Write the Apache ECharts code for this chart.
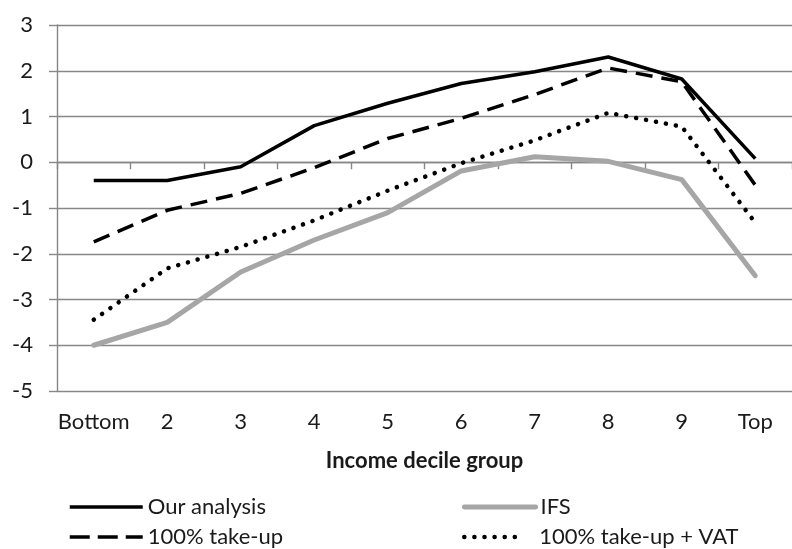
<!DOCTYPE html>
<html>
<head>
<meta charset="utf-8">
<script src="https://cdn.jsdelivr.net/npm/echarts@6/dist/echarts.min.js"></script>
<style>
  html, body { margin: 0; padding: 0; background: #fff; }
  #main { width: 792px; height: 549px; }
</style>
</head>
<body>
<div id="main"></div>
<script>
var deciles = ['Bottom', '2', '3', '4', '5', '6', '7', '8', '9', 'Top'];
var ourAnalysis = [-0.4, -0.4, -0.1, 0.8, 1.29, 1.72, 1.98, 2.3, 1.82, 0.08];
var ifs = [-4.0, -3.5, -2.4, -1.7, -1.1, -0.19, 0.12, 0.02, -0.38, -2.48];
var takeUp = [-1.74, -1.05, -0.68, -0.12, 0.52, 0.96, 1.48, 2.06, 1.76, -0.5];
var takeUpVat = [-3.44, -2.32, -1.85, -1.27, -0.62, -0.02, 0.48, 1.08, 0.78, -1.32];
var yTicks = { min: -5, max: 3, step: 1 };

var font = 'Lato';
var txt = '#1a1a1a';
var gridCol = '#878787';
var fs = 22;

// line looks shared by the series and their legend icons
var solidStyle = { color: '#000', width: 3.5 };
var ifsStyle = { color: '#a6a6a6', width: 5, cap: 'round' };
var dashStyle = { color: '#000', width: 3.5, type: [17, 9] };
var dotStyle = { color: '#000', width: 4.5, type: [0.1, 10], cap: 'round' };

var myChart = echarts.init(document.getElementById('main'));

// one legend per entry so they sit in two rows like the original
function legendAt(name, left, top, w, ls, pad) {
  return {
    data: [name],
    left: left, top: top,
    itemWidth: w, itemHeight: 14,
    padding: 0,
    itemStyle: { opacity: 0 },
    lineStyle: ls,
    textStyle: { fontFamily: font, fontSize: fs, color: txt, padding: [0, 0, 0, pad || 0] },
    selectedMode: false
  };
}

var option = {
  animation: false,
  grid: { left: 57, right: 0, top: 25, bottom: 158 },
  legend: [
    legendAt('Our analysis', 68, 496, 73, solidStyle),
    legendAt('IFS', 462, 496, 71, ifsStyle),
    legendAt('100% take-up', 68, 526, 73, { color: '#000', width: 3.5, type: [20, 8] }),
    legendAt('100% take-up + VAT', 462, 526, 60, dotStyle, 10)
  ],
  xAxis: [{
    // labels along the bottom of the plot
    type: 'category',
    data: deciles,
    position: 'bottom',
    axisLine: { show: false, onZero: false },
    axisTick: { show: false },
    axisLabel: { fontFamily: font, fontSize: fs, color: txt, margin: 20, interval: 0 },
    name: 'Income decile group',
    nameLocation: 'middle',
    nameGap: 59,
    nameTextStyle: { fontFamily: font, fontSize: fs, fontWeight: 'bold', color: txt }
  }, {
    // axis line with ticks crossing at zero
    type: 'category',
    data: deciles,
    position: 'bottom',
    axisLine: { show: true, onZero: true, lineStyle: { color: gridCol, width: 1.4 } },
    axisTick: { show: true, length: 7, interval: 0, lineStyle: { color: gridCol, width: 1.4 } },
    axisLabel: { show: false }
  }],
  yAxis: {
    type: 'value',
    min: yTicks.min, max: yTicks.max, interval: yTicks.step,
    axisLine: { show: true, lineStyle: { color: gridCol, width: 1.4 } },
    axisTick: { show: true, length: 8, lineStyle: { color: gridCol, width: 1.4 } },
    splitLine: { lineStyle: { color: gridCol, width: 1.4 } },
    axisLabel: { fontFamily: font, fontSize: fs, color: txt, margin: 24 }
  },
  series: [{
    name: 'Our analysis',
    type: 'line',
    data: ourAnalysis,
    symbol: 'none',
    z: 5,
    itemStyle: { color: '#000' },
    lineStyle: solidStyle
  }, {
    name: 'IFS',
    type: 'line',
    data: ifs,
    symbol: 'none',
    z: 2,
    itemStyle: { color: '#a6a6a6' },
    lineStyle: ifsStyle
  }, {
    name: '100% take-up',
    type: 'line',
    data: takeUp,
    symbol: 'none',
    z: 4,
    itemStyle: { color: '#000' },
    lineStyle: dashStyle
  }, {
    name: '100% take-up + VAT',
    type: 'line',
    data: takeUpVat,
    symbol: 'none',
    z: 3,
    itemStyle: { color: '#000' },
    lineStyle: dotStyle
  }]
};

myChart.setOption(option);
</script>
</body>
</html>
